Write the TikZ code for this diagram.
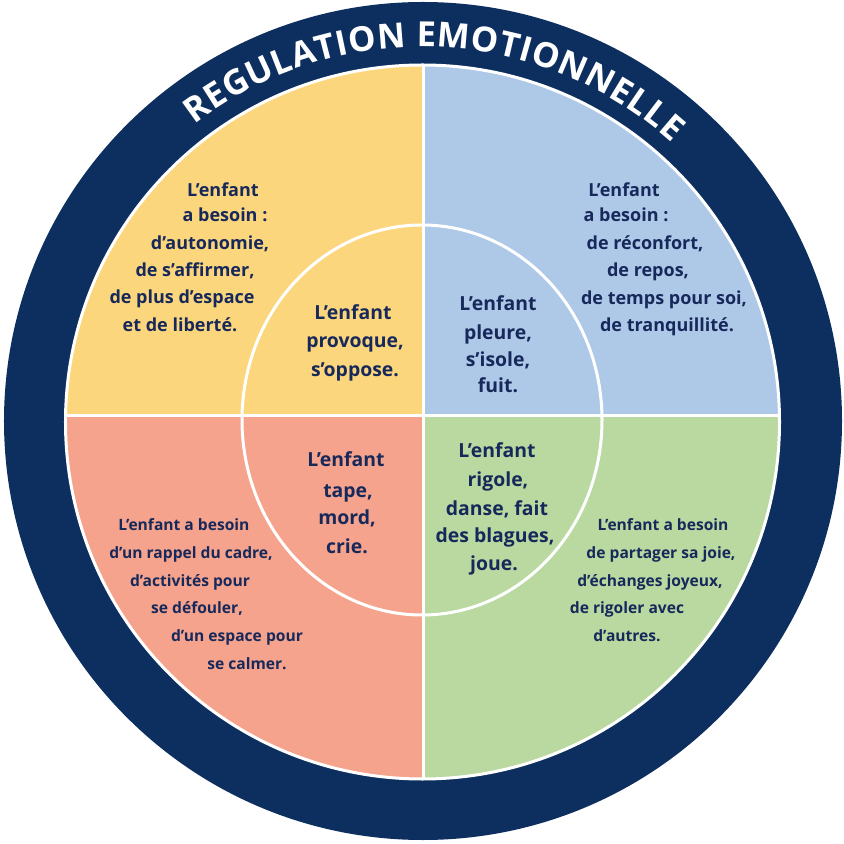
\documentclass[tikz,border=0pt]{standalone}
\usepackage{fontspec}
\setmainfont{Open Sans}
\usetikzlibrary{decorations.text}

\definecolor{navy}{HTML}{0D2F60}
\definecolor{ink}{HTML}{17295A}
\definecolor{sunny}{HTML}{FBD67C}
\definecolor{sky}{HTML}{AEC8E8}
\definecolor{salmon}{HTML}{F5A38C}
\definecolor{leaf}{HTML}{B9D9A1}

\begin{document}
\begin{tikzpicture}[
    x=0.5pt, y=0.5pt,
    coretext/.style={font=\bfseries\fontsize{9.7}{11}\selectfont, text=ink, text height=7pt, text depth=2pt, inner sep=0pt},
    needtext/.style={font=\bfseries\fontsize{9}{11}\selectfont, text=ink, text height=6.6pt, text depth=1.9pt, inner sep=0pt},
    needsmall/.style={font=\bfseries\fontsize{7.8}{10}\selectfont, text=ink, text height=5.8pt, text depth=1.7pt, inner sep=0pt},
    divider/.style={white, line width=1.5pt},
]
\useasboundingbox (-422,-423) rectangle (422,421);

% Wheel
\coordinate (hub) at (0.5,-1);
\fill[navy] (1,0) circle[radius=419];
\begin{scope}
  \clip (hub) circle[radius=357];
  \fill[sunny] (-360,5.5) rectangle (1,365);
  \fill[sky] (1,5.5) rectangle (360,365);
  \fill[salmon] (-360,-365) rectangle (1,5.5);
  \fill[leaf] (1,-365) rectangle (360,5.5);
\end{scope}
\draw[divider] (1,-358) -- (1,356);
\draw[divider] (-356,5.5) -- (357,5.5);
\draw[divider] (0,1) ellipse[x radius=180, y radius=195];
\draw[divider] (hub) circle[radius=357];

% Title
\path[decorate, decoration={text along path, text={|\LARGE\bfseries|REGULATION EMOTIONNELLE}, text align=fit to path, text color=white}]
  (127.5:374) arc[start angle=127.5, end angle=48.1, radius=374];

% Yellow quarter
\node[needtext] (yOut1) at (-199,229) {L’enfant};
\node[needtext] (yOut2) at (-197,204) {a besoin :};
\node[needtext] (yOut3) at (-212,176) {d’autonomie,};
\node[needtext] (yOut4) at (-227,149) {de s’affirmer,};
\node[needtext] (yOut5) at (-240,122) {de plus d’espace};
\node[needtext] (yOut6) at (-242,94) {et de liberté.};
\node[coretext] (yIn1) at (-69,106) {L’enfant};
\node[coretext] (yIn2) at (-67,78) {provoque,};
\node[coretext] (yIn3) at (-67,49) {s’oppose.};

% Blue quarter
\node[coretext] (bIn1) at (76,115) {L’enfant};
\node[coretext] (bIn2) at (76,86) {pleure,};
\node[coretext] (bIn3) at (76,59) {s’isole,};
\node[coretext] (bIn4) at (76,33) {fuit.};
\node[needtext] (bOut1) at (202,229) {L’enfant};
\node[needtext] (bOut2) at (204,204) {a besoin :};
\node[needtext] (bOut3) at (223,176) {de réconfort,};
\node[needtext] (bOut4) at (226,149) {de repos,};
\node[needtext] (bOut5) at (242,121) {de temps pour soi,};
\node[needtext] (bOut6) at (245,94) {de tranquillité.};

% Salmon quarter
\node[coretext] (sIn1) at (-76,-41) {L’enfant};
\node[coretext] (sIn2) at (-74,-71) {tape,};
\node[coretext] (sIn3) at (-75,-99) {mord,};
\node[coretext] (sIn4) at (-75,-127) {crie.};
\node[needsmall] (sOut1) at (-238,-105) {L’enfant a besoin};
\node[needsmall] (sOut2) at (-231,-133) {d’un rappel du cadre,};
\node[needsmall] (sOut3) at (-232,-161) {d’activités pour};
\node[needsmall] (sOut4) at (-225,-188) {se défouler,};
\node[needsmall] (sOut5) at (-185,-216) {d’un espace pour};
\node[needsmall] (sOut6) at (-175,-244) {se calmer.};

% Green quarter
\node[coretext] (gIn1) at (75,-32) {L’enfant};
\node[coretext] (gIn2) at (76,-61) {rigole,};
\node[coretext] (gIn3) at (75,-89) {danse, fait};
\node[coretext] (gIn4) at (73,-116) {des blagues,};
\node[coretext] (gIn5) at (72,-144) {joue.};
\node[needsmall] (gOut1) at (241,-105) {L’enfant a besoin};
\node[needsmall] (gOut2) at (239,-133) {de partager sa joie,};
\node[needsmall] (gOut3) at (228,-161) {d’échanges joyeux,};
\node[needsmall] (gOut4) at (205,-188) {de rigoler avec};
\node[needsmall] (gOut5) at (205,-216) {d’autres.};

\end{tikzpicture}
\end{document}
